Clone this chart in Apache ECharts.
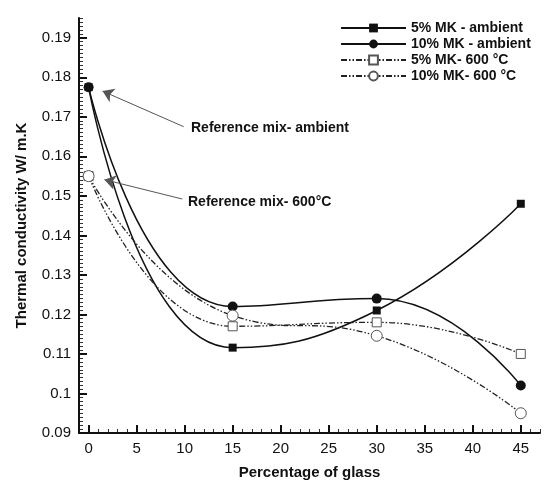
<!DOCTYPE html>
<html>
<head>
<meta charset="utf-8">
<script src="https://cdn.jsdelivr.net/npm/echarts@6/dist/echarts.min.js"></script>
<style>
  html, body { margin: 0; padding: 0; background: #fff; }
  #chart { width: 546px; height: 485px; }
</style>
</head>
<body>
<div id="chart"></div>
<script>
const glass = [0, 15, 30, 45];
const mk5Ambient = [0.1775, 0.1116, 0.121, 0.148];
const mk10Ambient = [0.1775, 0.122, 0.124, 0.102];
const mk5Fired = [0.155, 0.117, 0.118, 0.110];
const mk10Fired = [0.155, 0.1197, 0.1146, 0.095];

const seriesNames = ["5% MK - ambient", "10% MK - ambient", "5% MK- 600 °C", "10% MK- 600 °C"];

const FONT = "Arial, 'Liberation Sans', sans-serif";
const dashDotDot = [6, 2, 1.5, 2, 1.5, 2];

function pairs(values) {
  return glass.map((g, i) => [g, values[i]]);
}

const chart = echarts.init(document.getElementById("chart"));

// minor tick axes sit on top of the main ones, ticks only
const minorAxis = {
  type: "value",
  z: 1,
  splitLine: { show: false },
  axisLine: { show: false, onZero: false },
  axisLabel: { show: false },
  axisTick: { show: true, inside: true, length: 4, lineStyle: { color: "#333", width: 1 } }
};

chart.setOption({
  animation: false,
  backgroundColor: "#fff",
  grid: { left: 79, right: 6, top: 18, bottom: 45, containLabel: false },
  legend: {
    orient: "vertical",
    left: 335,
    top: 16,
    itemWidth: 65,
    itemHeight: 11,
    itemGap: 2,
    textStyle: { fontFamily: FONT, fontSize: 14, fontWeight: "bold", color: "#111" },
    data: seriesNames
  },
  xAxis: [
    {
      type: "value",
      position: "bottom",
      z: 5,
      min: -1,
      max: 47,
      splitNumber: 10,
      name: "Percentage of glass",
      nameLocation: "middle",
      nameGap: 32,
      nameTextStyle: { fontFamily: FONT, fontSize: 15, fontWeight: "bold", color: "#111" },
      splitLine: { show: false },
      axisLine: { show: true, onZero: false, lineStyle: { color: "#111", width: 2 } },
      axisTick: { show: true, inside: true, length: 8, lineStyle: { color: "#111", width: 2 } },
      axisLabel: { showMinLabel: false, showMaxLabel: false, margin: 8, fontFamily: FONT, fontSize: 15, color: "#111" }
    },
    { ...minorAxis, position: "bottom", min: -1, max: 47, interval: 1 }
  ],
  yAxis: [
    {
      type: "value",
      position: "left",
      z: 5,
      min: 0.09,
      max: 0.195,
      interval: 0.01,
      name: "Thermal conductivity W/ m.K",
      nameLocation: "middle",
      nameGap: 50,
      nameTextStyle: { fontFamily: FONT, fontSize: 15, fontWeight: "bold", color: "#111" },
      splitLine: { show: false },
      axisLine: { show: true, onZero: false, lineStyle: { color: "#111", width: 2 } },
      axisTick: { show: true, inside: true, length: 8, lineStyle: { color: "#111", width: 2 } },
      axisLabel: {
        showMaxLabel: false,
        margin: 8,
        fontFamily: FONT,
        fontSize: 15,
        color: "#111",
        formatter: (v) => String(+v.toFixed(3))
      }
    },
    { ...minorAxis, position: "left", min: 0.09, max: 0.195, interval: 0.001 }
  ],
  graphic: [
    {
      type: "text",
      left: 191,
      top: 121,
      style: { text: "Reference mix- ambient", fontFamily: FONT, fontSize: 14, fontWeight: "bold", fill: "#111" }
    },
    {
      type: "text",
      left: 188,
      top: 195,
      style: { text: "Reference mix- 600°C", fontFamily: FONT, fontSize: 14, fontWeight: "bold", fill: "#111" }
    }
  ],
  series: [
    {
      name: seriesNames[0],
      type: "line",
      smooth: 0.5,
      data: pairs(mk5Ambient),
      symbol: "rect",
      symbolSize: 8,
      itemStyle: { color: "#111" },
      lineStyle: { color: "#111", width: 1.5 },
      markLine: {
        silent: true,
        symbol: ["none", "arrow"],
        symbolSize: 11,
        label: { show: false },
        lineStyle: { color: "#555", width: 1, type: "solid" },
        itemStyle: { color: "#111" },
        emphasis: { disabled: true },
        data: [
          [{ coord: [9.9, 0.1675] }, { coord: [1.45, 0.1765], itemStyle: { color: "#111" } }],
          [{ coord: [9.75, 0.1492] }, { coord: [1.65, 0.1541], itemStyle: { color: "#111" } }]
        ]
      }
    },
    {
      name: seriesNames[1],
      type: "line",
      smooth: 0.5,
      data: pairs(mk10Ambient),
      symbol: "circle",
      symbolSize: 10,
      itemStyle: { color: "#111" },
      lineStyle: { color: "#111", width: 1.5 }
    },
    {
      name: seriesNames[2],
      type: "line",
      smooth: 0.5,
      data: pairs(mk5Fired),
      symbol: "rect",
      symbolSize: 9,
      itemStyle: { color: "#fff", borderColor: "#555", borderWidth: 1 },
      lineStyle: { color: "#222", width: 1.3, type: dashDotDot }
    },
    {
      name: seriesNames[3],
      type: "line",
      smooth: 0.5,
      data: pairs(mk10Fired),
      symbol: "circle",
      symbolSize: 11,
      itemStyle: { color: "#fff", borderColor: "#555", borderWidth: 1 },
      lineStyle: { color: "#222", width: 1.3, type: dashDotDot }
    }
  ]
});
</script>
</body>
</html>
